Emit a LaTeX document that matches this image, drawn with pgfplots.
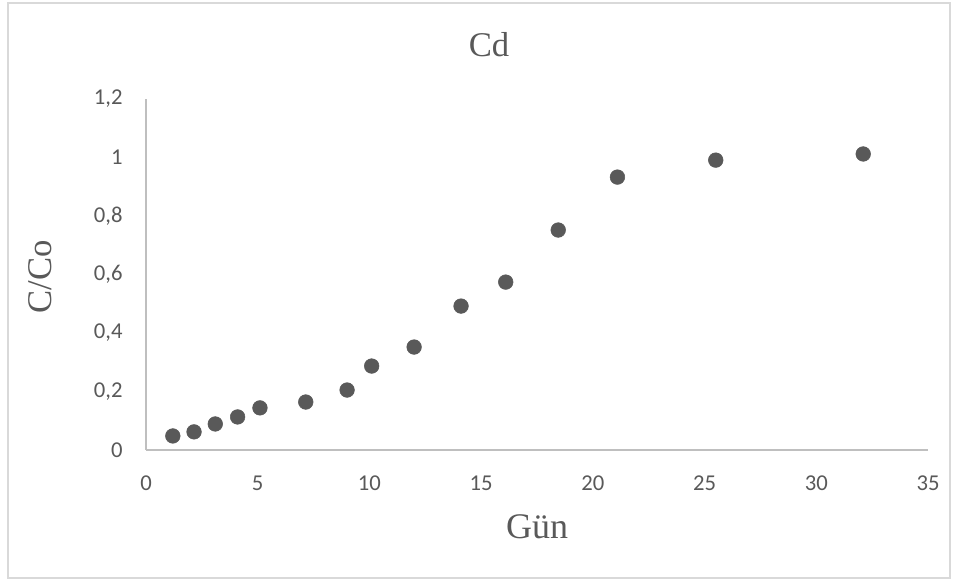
\documentclass[border=0pt]{standalone}
\usepackage{pgfplots}
\pgfplotsset{compat=1.18}
\usepackage{fontspec}
\setmainfont{Liberation Serif}
\newfontfamily\tickfont{Carlito}
\definecolor{marker}{HTML}{595959}
\definecolor{axisgray}{HTML}{BFBFBF}
\definecolor{ticktext}{HTML}{595959}
\definecolor{framegray}{HTML}{D9D9D9}

\pgfplotstableread{
x     y
1.2   0.048
2.15  0.062
3.1   0.089
4.1   0.113
5.1   0.144
7.15  0.164
9.0   0.205
10.1  0.287
12.0  0.352
14.1  0.492
16.1  0.574
18.45 0.752
21.1  0.933
25.5  0.991
32.1  1.012
}\cdData

\begin{document}
\begin{tikzpicture}[x=0.75pt,y=0.75pt]
\useasboundingbox (0,0) rectangle (959,581);
\draw[framegray, line width=1.2pt] (8,3) rectangle (950,578);
\begin{axis}[
  at={(109.5pt,98.25pt)}, anchor=south west,
  scale only axis,
  width=586.5pt, height=263.25pt,
  xmin=0, xmax=35, ymin=0, ymax=1.2,
  xtick={0,5,...,35},
  ytick={0,0.2,...,1.2},
  axis x line*=bottom, axis y line*=left,
  axis line style={axisgray, line width=1pt, -},
  major tick length=0pt,
  tick style={draw=none},
  /pgf/number format/.cd, use comma, fixed, precision=1, assume math mode=true,
  /pgfplots/.cd,
  ticklabel style={font=\tickfont\fontsize{17}{20}\selectfont, text=ticktext},
  xticklabel style={yshift=-16pt},
  yticklabel style={xshift=-14pt},
  clip=false,
]
\addplot[only marks, mark=*, mark size=5.5pt, mark options={fill=marker, draw=marker}] table[x=x, y=y] {\cdData};
\end{axis}
\node[text=ticktext, font=\fontsize{26}{30}\selectfont] at (489,536) {Cd};
\node[text=ticktext, font=\fontsize{27}{32}\selectfont] at (537,54) {Gün};
\node[text=ticktext, font=\fontsize{26}{30}\selectfont, rotate=90] at (40,304) {C/Co};
\end{tikzpicture}
\end{document}
